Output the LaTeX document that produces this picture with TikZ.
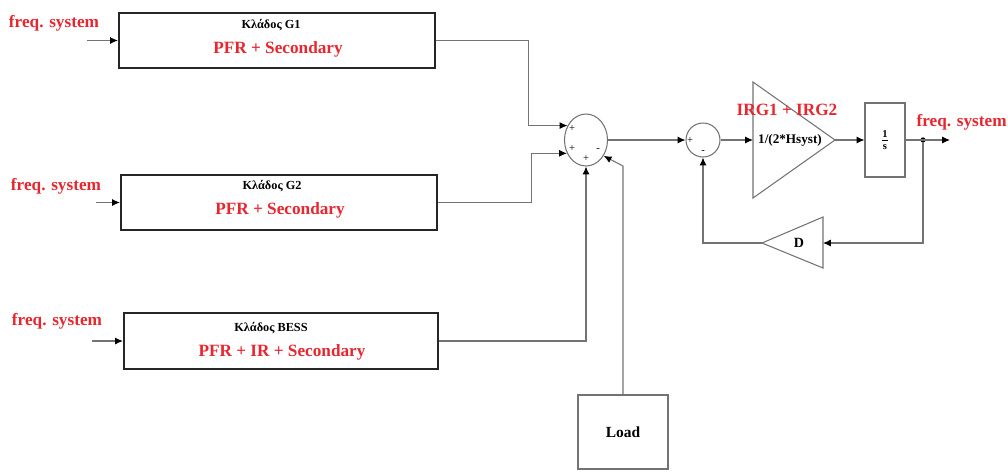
\documentclass[tikz,border=0pt]{standalone}
\usepackage{fontspec}
\setmainfont{Liberation Serif}
\usetikzlibrary{arrows.meta,shapes.geometric,shadows}
\definecolor{rosso}{RGB}{232,38,48}
\definecolor{grigio}{RGB}{115,115,115}

\begin{document}
\begin{tikzpicture}[
	x=0.02cm, y=-0.02cm,
	filo/.style={line width=0.6pt, grigio},
	freccia/.style={filo, -{Latex[black,length=4.5pt,width=4pt]}},
	ramo/.style={draw=black!85, line width=1.2pt, fill=white,
		inner sep=0pt, drop shadow={shadow xshift=0.8pt,
			shadow yshift=-0.8pt, fill=black!25}},
	blocco/.style={draw=grigio, line width=0.6pt, fill=white, inner sep=0pt},
	titolo/.style={font=\fontsize{7}{8}\selectfont\bfseries, inner sep=0pt},
	testo/.style={font=\fontsize{9.8}{11}\selectfont\bfseries, text=rosso, inner sep=0pt},
	segno/.style={font=\fontsize{6}{6}\selectfont, inner sep=0pt}]
	
	\def\px{0.02cm}                    %% un pixel del riferimento
	\useasboundingbox (0,0) rectangle (1008,471);
	
	%% --- i tre rami ---
	\node[ramo, minimum width=316*\px, minimum height=55*\px] (g1) at (277,40.5) {};
	\node[ramo, minimum width=316*\px, minimum height=55*\px] (g2) at (279,202.5) {};
	\node[ramo, minimum width=314*\px, minimum height=56*\px] (bess) at (281,341) {};
	
	\node[titolo] (tg1) at (271,25) {Κλάδος G1};
	\node[titolo] (tg2) at (272,186) {Κλάδος G2};
	\node[titolo] (tbess) at (271,328) {Κλάδος BESS};
	\node[testo] (pg1) at (278,49) {PFR + Secondary};
	\node[testo] (pg2) at (280,210) {PFR + Secondary};
	\node[testo] (pbess) at (282,352) {PFR + IR + Secondary};
	
	%% --- ingressi ---
	\node[testo] (f1) at (54,23) {freq. system};
	\node[testo] (f2) at (56,186) {freq. system};
	\node[testo] (f3) at (57,321) {freq. system};
	\coordinate (in1) at (87,40.5);
	\coordinate (in2) at (96,202.5);
	\coordinate (in3) at (92,341);
	\draw[freccia] (in1) -- (g1.west);
	\draw[freccia] (in2) -- (g2.west);
	\draw[freccia] (in3) -- (bess.west);
	
	%% --- sommatore e carico ---
	\node[blocco, ellipse, minimum width=43*\px, minimum height=52*\px] (sum) at (586,140) {};
	\node[segno] (s1) at (572,129) {+};
	\node[segno] (s2) at (572,149) {+};
	\node[segno] (s3) at (586,159) {+};
	\node[segno] (s4) at (598,150) {-};
	\node[blocco, minimum width=90*\px, minimum height=74*\px,
		font=\fontsize{8.8}{10}\selectfont\bfseries] (load) at (623,432) {Load};
	
	\draw[freccia] (g1.east) -- ++(92,0) |- (sum.142);
	\draw[freccia] (g2.east) -- ++(93,0) |- (sum.215);
	\draw[freccia] (bess.east) -| (sum.south);
	\draw[freccia] (load.north) -- (load.north |- 0,166) -- (sum.-42);
	
	%% --- anello di frequenza ---
	\node[blocco, circle, minimum size=34*\px] (sum2) at (703,140) {};
	\node[segno] (s5) at (690,141) {+};
	\node[segno] (s6) at (703,152) {-};
	
	\coordinate (gin) at (753,140);
	\coordinate (gout) at (835,140);
	\draw[blocco] (753,82) -- (gout) -- (753,198) -- cycle;
	\node[font=\fontsize{7.5}{8}\selectfont\bfseries] (kH) at (790,140) {1/(2*Hsyst)};
	\node[testo] (irg) at (787,110) {IRG1 + IRG2};
	
	\node[blocco, minimum width=40*\px, minimum height=74*\px,
		font=\fontsize{8}{8}\selectfont] (intg) at (885,140) {$\frac{\mathbf{1}}{\mathbf{s}}$};
	\node[circle, fill=black, inner sep=0pt, minimum size=3pt] (nodo) at (923,140) {};
	\coordinate (usc) at (950,140);
	\node[testo, anchor=east] (f4) at (1007,122) {freq. system};
	
	\coordinate (dR) at (823,243);
	\coordinate (dL) at (762,243);
	\draw[blocco] (823,217) -- (823,268) -- (dL) -- cycle;
	\node[font=\fontsize{8}{8}\selectfont\bfseries] (dlab) at (799,243) {D};
	
	\draw[freccia] (sum.east) -- (sum2.west);
	\draw[freccia] (sum2.east) -- (gin);
	\draw[freccia] (gout) -- (intg.west);
	\draw[freccia] (intg.east) -- (usc);
	\draw[freccia] (nodo) |- (dR);
	\draw[freccia] (dL) -| (sum2.south);
	
\end{tikzpicture}
\end{document}
